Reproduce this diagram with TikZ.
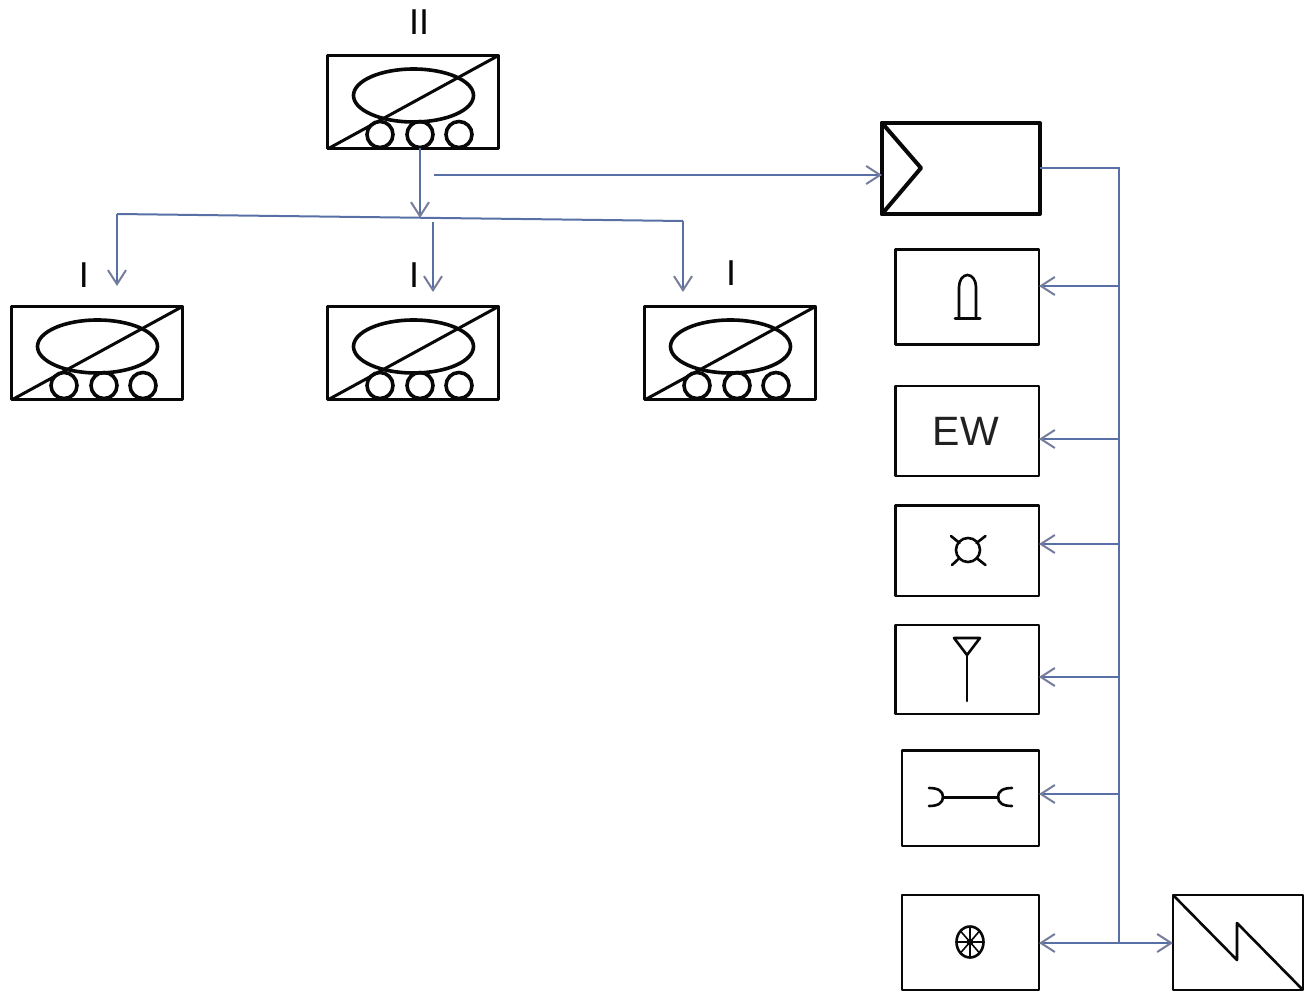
\documentclass[tikz,border=0pt]{standalone}
\usepackage{fontspec}
\setmainfont{Liberation Sans}
\usetikzlibrary{arrows.meta}
\definecolor{conn}{RGB}{88,112,165}
\definecolor{tipc}{RGB}{118,124,155}
\definecolor{ink}{RGB}{8,8,8}
\tikzset{
  x=1pt,y=-1pt,
  boxbase/.style={draw=ink,fill=white,inner sep=0pt,outer sep=0pt,line join=round},
  thickbox/.style={boxbase,line width=3.6pt},
  thinbox/.style={boxbase,line width=2.5pt},
  sym/.style={draw=ink,line width=2.6pt,line cap=round,line join=round},
  symthick/.style={draw=ink,line width=3.6pt,line cap=round,line join=round},
  conn/.style={draw=conn,line width=2pt},
  arr/.style={conn,-{Straight Barb[color=tipc,length=14pt,width=18pt,line width=2pt]}},
  lab/.style={font=\fontsize{36}{40}\selectfont,text=ink,inner sep=0pt},
  ew/.style={font=\fontsize{41}{44}\selectfont,text=ink!90,inner sep=0pt}
}
\newcommand{\mybox}[6]{% style, name, x1,y1,x2,y2
  \node[#1,minimum width={(#5-#3)*1pt},minimum height={(#6-#4)*1pt}] (#2) at ({(#3+#5)/2},{(#4+#6)/2}) {};
}
\newcommand{\armour}[3]{% name, x1, y1
  \mybox{thickbox}{#1}{#2}{#3}{#2+171}{#3+93}
  \begin{scope}[shift={(#2,#3)}]
    \draw[symthick] (86,40) ellipse [x radius=60,y radius=26.5];
    \draw[sym,line width=3pt] (1,93) -- (171,0);
    \draw[symthick] (52.5,79) circle [radius=13];
    \draw[symthick] (92.5,79) circle [radius=13];
    \draw[symthick] (131.5,79) circle [radius=13];
  \end{scope}
}
\begin{document}
\begin{tikzpicture}
\useasboundingbox (0,0) rectangle (1307,992);
% echelon labels
\node[lab] (l0) at (419,22) {II};
\node[lab] (l1) at (84,275) {I};
\node[lab] (l2) at (414,275) {I};
\node[lab] (l3) at (731,273) {I};
% armoured units
\armour{u0}{327.5}{55.5}
\armour{u1}{11.5}{306.5}
\armour{u2}{327.5}{306.5}
\armour{u3}{644.5}{306.5}
% headquarters box
\mybox{thickbox,line width=4pt}{hq}{882}{123}{1040}{214}
\draw[symthick,line width=4pt] (hq.north west) -- (921,168) -- (hq.south west);
% support boxes
\mybox{thinbox}{b1}{895.5}{249.5}{1039}{344.5}
\draw[sym] (959,318) -- (959,287) arc[start angle=180,end angle=360,x radius=8.5,y radius=12] -- (976,318);
\draw[sym,line width=3pt] (955,319) -- (980,319);
\node[thinbox,minimum width=143.5pt,minimum height=90pt,ew] (b2) at (967.25,431) {\kern-3pt EW};
\mybox{thinbox}{b3}{895.5}{505.5}{1039}{596}
\draw[sym] (968,550) circle [radius=12];
\draw[sym] (951,536) -- (959.5,543);
\draw[sym] (985.5,536) -- (976.5,543);
\draw[sym] (952,565) -- (959.5,558);
\draw[sym] (985.5,565) -- (976.5,558);
\mybox{thinbox}{b4}{895.5}{625}{1039}{714}
\draw[sym] (954,638) -- (980,638) -- (967,655) -- cycle;
\draw[sym] (967,655) -- (967,701);
\mybox{thinbox}{b5}{902}{750.5}{1039}{846}
\draw[sym,line width=3pt] (943,797) -- (998,797);
\draw[sym] (929,788) .. controls (938,788) and (943,791) .. (943,797) .. controls (943,803) and (938,806) .. (929,806);
\draw[sym] (1012,788) .. controls (1003,788) and (998,791) .. (998,797) .. controls (998,803) and (1003,806) .. (1012,806);
\mybox{thinbox}{b6}{902}{895}{1039}{990}
\draw[sym] (970,942) ellipse [x radius=13.5,y radius=15.5];
\foreach \a in {0,45,...,315} {\draw[draw=ink,line width=1.6pt] (970,942) -- ++({13*cos(\a)},{15*sin(\a)});}
\fill[ink] (970,942) circle [radius=3.5];
\mybox{thinbox}{b7}{1173}{895}{1303}{990}
\draw[sym,line cap=butt] (b7.north west) -- (1237,960) -- (1237,923) -- (b7.south east);
% connectors
\coordinate (busTop) at (1118.5,168);
\coordinate (busBot) at (1118.5,943);
\coordinate (t1) at (1118.5,286);
\coordinate (t2) at (1118.5,439);
\coordinate (t3) at (1118.5,544);
\coordinate (t4) at (1118.5,677);
\coordinate (t5) at (1118.5,794);
\coordinate (hqStart) at (434,175);
\coordinate (brL) at (117,214);
\coordinate (brM) at (433,222);
\coordinate (brR) at (683,221);
\coordinate (downEnd) at (420,218);
\draw[conn] (hq.east |- busTop) -- (busTop) -- (busBot);
\foreach \t/\b in {t1/b1,t2/b2,t3/b3,t4/b4,t5/b5,busBot/b6}{
  \draw[arr] (\t) -- (\b.east |- \t);
}
\draw[arr] (busBot) -- (b7.west |- busBot);
\draw[arr] (hqStart) -- (hq.west |- hqStart);
\draw[arr] (u0.south -| downEnd) -- (downEnd);
\draw[conn] (brL) -- (brR);
\draw[arr] (brL) -- (117,286);
\draw[arr] (brM) -- (433,292);
\draw[arr] (brR) -- (683,292);
\end{tikzpicture}
\end{document}
